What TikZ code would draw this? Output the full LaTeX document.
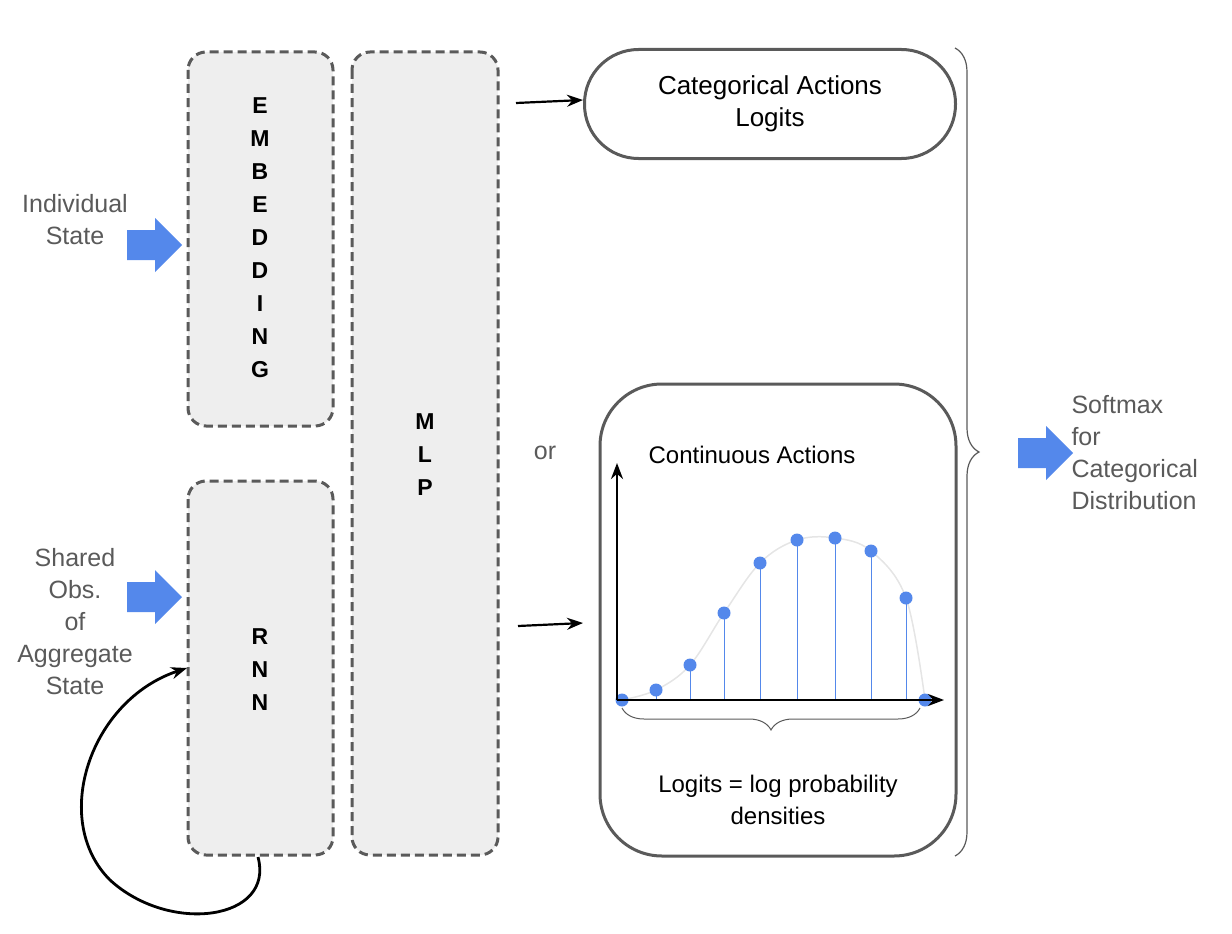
\documentclass[tikz,border=0pt]{standalone}
\usepackage{fontspec}
\setmainfont{Liberation Sans}
\usetikzlibrary{arrows.meta,decorations.pathreplacing}
\definecolor{bx}{RGB}{238,238,238}
\definecolor{bd}{RGB}{90,90,90}
\definecolor{bl}{RGB}{84,136,235}
\definecolor{tg}{RGB}{90,90,90}
\begin{document}
\begin{tikzpicture}[x=1pt,y=-1pt,
  dbox/.style={draw=bd,line width=3pt,dash pattern=on 9pt off 5pt,fill=bx,rounded corners=18pt},
  let/.style={font=\fontsize{23}{24}\selectfont\bfseries,align=center},
  lab/.style={font=\fontsize{25}{32}\selectfont,text=tg,align=center},
  txt/.style={font=\fontsize{26}{32}\selectfont,align=center},
  ar/.style={-{Stealth[length=16pt,width=12pt]},line width=2.2pt},
  dot/.style={circle,fill=bl,inner sep=0pt,minimum size=13pt}]
\useasboundingbox (0,0) rectangle (1232,934);
\newcommand{\barrow}[2]{\fill[bl] (#1,#2) ++(0,-15) -- ++(28,0) -- ++(0,-12) -- ++(27,27) -- ++(-27,27) -- ++(0,-12) -- ++(-28,0) -- cycle;}
\draw[dbox] (188,52) rectangle (333,426);
\draw[dbox] (188,481) rectangle (333,855);
\draw[dbox] (352,52) rectangle (498,855);
\node[let] (emb) at (260,238) {E\\[9pt]M\\[9pt]B\\[9pt]E\\[9pt]D\\[9pt]D\\[9pt]I\\[9pt]N\\[9pt]G};
\node[let] (rnn) at (260,670) {R\\[9pt]N\\[9pt]N};
\node[let] (mlp) at (425,455) {M\\[9pt]L\\[9pt]P};
\node[draw=bd,line width=3pt,rounded corners=54pt,minimum width=371pt,minimum height=109pt,txt] (cat) at (770,104) {Categorical Actions\\Logits};
\draw[bd,line width=3pt,rounded corners=62pt] (600,384) rectangle (956,856);
\coordinate (a1) at (516,103); \coordinate (a1e) at (583,100);
\draw[ar] (a1) -- (a1e);
\coordinate (a2) at (518,626); \coordinate (a2e) at (583,623);
\draw[ar] (a2) -- (a2e);
\node[lab] (or) at (545,453) {or};
\draw[bd,line width=1.2pt,decorate,decoration={brace,amplitude=24pt}] (955,48) -- (955,856);
\barrow{1018}{453}
\node[lab,align=left,anchor=west] (soft) at (1068,453) {Softmax\\for\\Categorical\\Distribution};
\barrow{127}{245}
\node[lab] (ind) at (75,220) {Individual\\State};
\barrow{127}{597}
\node[lab] (shr) at (75,622) {Shared\\Obs.\\of\\Aggregate\\State};
\coordinate (l1) at (258,857); \coordinate (l2) at (187,668);
\draw[ar,line width=2.8pt] (l1) .. controls (275,920) and (170,935) .. (110,880) .. controls (50,820) and (90,700) .. (l2);
% chart
\node[txt,font=\fontsize{24}{28}\selectfont] (ca) at (752,455) {Continuous Actions};
\draw[black!10,line width=1.5pt] plot[smooth,tension=0.6] coordinates {(622,700)(656,690)(690,665)(724,613)(760,563)(797,540)(835,538)(871,551)(906,598)(925,700)};
\foreach \x/\y [count=\i] in {622/700,656/690,690/665,724/613,760/563,797/540,835/538,871/551,906/598,925/700}{
  \draw[bl,line width=1pt] (\x,\y) -- (\x,700);
  \node[dot] (d\i) at (\x,\y) {};}
\coordinate (o) at (617,700); \coordinate (yt) at (617,463); \coordinate (xt) at (944,700);
\draw[ar,line width=2.8pt] (o) -- (yt);
\draw[ar,line width=2.8pt] (o) -- (xt);
\draw[bd,line width=1pt,decorate,decoration={brace,mirror,amplitude=22pt}] (622,708) -- (920,708);
\node[txt,font=\fontsize{24}{32}\selectfont] (lg) at (778,800) {Logits = log probability\\densities};
\end{tikzpicture}
\end{document}
